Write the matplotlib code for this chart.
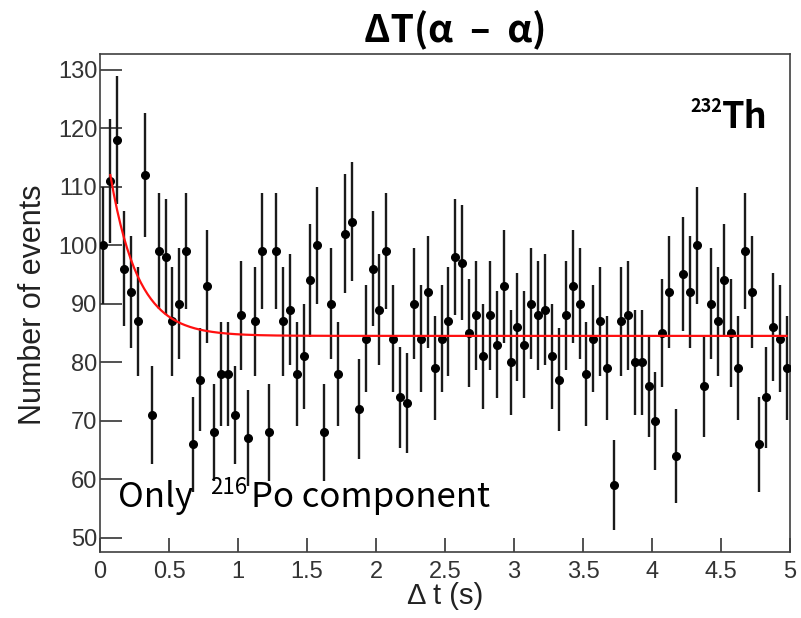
import matplotlib
matplotlib.use('Agg')
import matplotlib.pyplot as plt
import numpy as np

# Delta t bin centres (s) and counts per bin
dt_centers = np.arange(100) * 0.05 + 0.025
counts = [
    100, 111, 118, 96, 92, 87, 112, 71, 99, 98,
    87, 90, 99, 66, 77, 93, 68, 78, 78, 71,
    88, 67, 87, 99, 68, 99, 87, 89, 78, 81,
    94, 100, 68, 90, 78, 102, 104, 72, 84, 96,
    89, 99, 84, 74, 73, 90, 84, 92, 79, 84,
    87, 98, 97, 85, 88, 81, 88, 83, 93, 80,
    86, 83, 90, 88, 89, 81, 77, 88, 93, 90,
    78, 84, 87, 79, 59, 87, 88, 80, 80, 76,
    70, 85, 92, 64, 95, 92, 100, 76, 90, 87,
    94, 85, 79, 99, 92, 66, 74, 86, 84, 79]

# exponential fit: const + amp * exp(-t / tau)
fit_const = 84.5
fit_amp = 40.0
fit_tau = 0.2
fit_range = (0.075, 4.975)

counts = np.array(counts)
errors = np.sqrt(counts)

W, H = 801, 618
fig = plt.figure(figsize=(W / 100, H / 100), dpi=100)
ax = fig.add_axes([100 / W, 1 - 551.7 / H, 690 / W, 497.7 / H])

ax.errorbar(dt_centers, counts, yerr=errors, fmt='o', color='black',
            ecolor='#1a1a1a', elinewidth=1.7, markersize=5.5, capsize=0, zorder=3)

t_fit = np.linspace(fit_range[0], fit_range[1], 400)
ax.plot(t_fit, fit_const + fit_amp * np.exp(-t_fit / fit_tau), color='#ff1010', lw=1.6, zorder=4)

ax.set_xlim(0, 5)
ax.set_ylim(47.6, 132.7)
ax.set_xticks(np.arange(0, 5.01, 0.5))
ax.set_xticklabels(['0', '0.5', '1', '1.5', '2', '2.5', '3', '3.5', '4', '4.5', '5'])
ax.set_yticks(np.arange(50, 131, 10))

for lab in ax.get_xticklabels() + ax.get_yticklabels():
    lab.set_fontfamily('Liberation Sans')
    lab.set_fontsize(17)
    lab.set_color('#333333')
ax.tick_params(axis='y', direction='in', length=16, width=1.2, color='#333333', pad=2)
ax.tick_params(axis='x', direction='in', length=10, width=1.2, color='#333333', pad=7)
for s in ax.spines.values():
    s.set_color('#404040')
    s.set_linewidth(1.2)

ax.set_xlabel('Δ t (s)', fontfamily='Liberation Sans', fontsize=21, color='#222222')
ax.xaxis.set_label_coords(0.5, -(596 - 551.7) / 497.7)
ax.xaxis.label.set_va('center')
ax.set_ylabel('Number of events', fontfamily='Liberation Sans', fontsize=22, color='#222222')
ax.yaxis.set_label_coords((33 - 100) / 690, (551.7 - 305) / 497.7)
ax.yaxis.label.set_va('center')
ax.yaxis.label.set_ha('center')

cjk = ['Noto Sans CJK KR', 'DejaVu Sans']


def ptext(x, y, s, **kw):
    fig.text(x / W, 1 - y / H, s, family=cjk, va='baseline', **kw)


ptext(455, 42, 'ΔT(α  –  α)', ha='center', fontsize=27, fontweight='bold')
ptext(690, 112, '232', ha='left', fontsize=13, fontweight='bold')
ptext(722, 128, 'Th', ha='left', fontsize=26, fontweight='bold')
ptext(118, 507, 'Only', ha='left', fontsize=25)
ptext(210, 494, '216', ha='left', fontsize=16)
ptext(251, 507, 'Po component', ha='left', fontsize=25)

fig.savefig('out.png', dpi=100)
